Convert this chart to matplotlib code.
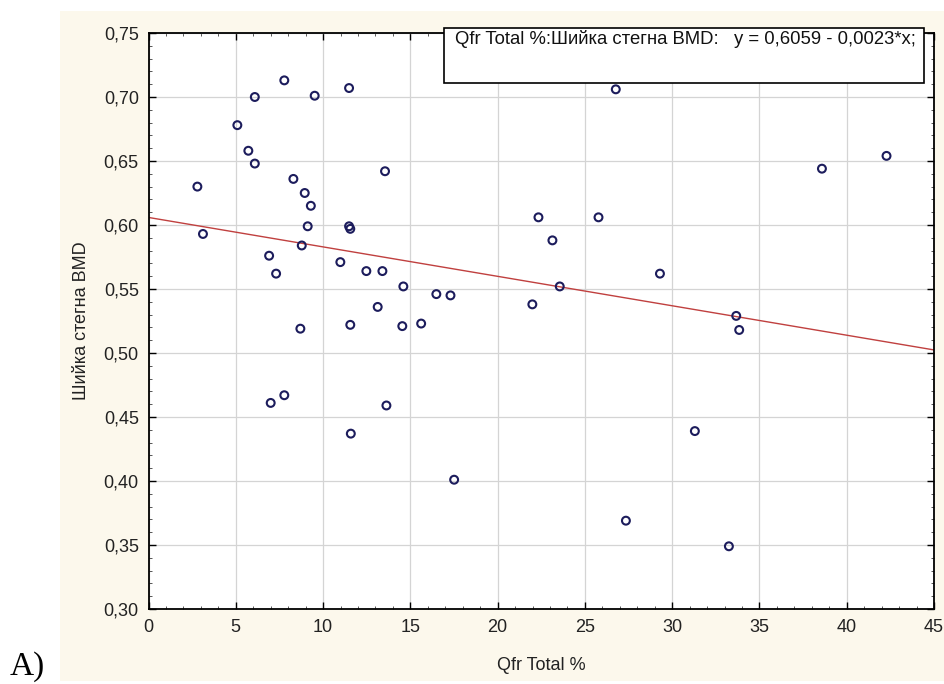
import matplotlib
matplotlib.use('Agg')
import matplotlib.pyplot as plt
from matplotlib.patches import Rectangle
from matplotlib.ticker import MultipleLocator, FuncFormatter
import numpy as np

plt.rcParams['font.family'] = ['Liberation Sans', 'DejaVu Sans']

# Qfr Total % vs femoral neck BMD
qfr = [2.80, 3.12, 5.09, 5.72, 6.09, 6.09, 6.91, 7.00, 7.31, 7.78,
       7.78, 8.30, 8.70, 8.78, 8.95, 9.12, 9.30, 9.52, 10.99, 11.49,
       11.49, 11.56, 11.56, 11.59, 12.48, 13.13, 13.40, 13.55, 13.63, 14.54,
       14.60, 15.62, 16.49, 17.30, 17.51, 21.99, 22.34, 23.14, 23.56, 25.78,
       26.77, 27.35, 29.30, 31.30, 33.25, 33.67, 33.84, 38.58, 42.28]
bmd = [0.630, 0.593, 0.678, 0.658, 0.700, 0.648, 0.576, 0.461, 0.562, 0.713,
       0.467, 0.636, 0.519, 0.584, 0.625, 0.599, 0.615, 0.701, 0.571, 0.707,
       0.599, 0.597, 0.522, 0.437, 0.564, 0.536, 0.564, 0.642, 0.459, 0.521,
       0.552, 0.523, 0.546, 0.545, 0.401, 0.538, 0.606, 0.588, 0.552, 0.606,
       0.706, 0.369, 0.562, 0.439, 0.349, 0.529, 0.518, 0.644, 0.654]

intercept = 0.6059
slope = -0.0023
x_ticks = [0, 5, 10, 15, 20, 25, 30, 35, 40, 45]
y_ticks = [0.30, 0.35, 0.40, 0.45, 0.50, 0.55, 0.60, 0.65, 0.70, 0.75]

W, H = 944, 684
fig = plt.figure(figsize=(W / 100, H / 100), dpi=100)
fig.patch.set_facecolor('white')

# cream panel behind the plot
fig.patches.append(Rectangle((60 / W, 1 - 681 / H), (W - 60) / W, (681 - 11) / H,
                             transform=fig.transFigure, facecolor='#fcf8ec',
                             edgecolor='none', zorder=-10))

ax = fig.add_axes([148.5 / W, 1 - 609 / H, (934 - 148.5) / W, (609 - 33) / H])
ax.set_facecolor('white')

ax.set_xlim(0, 45)
ax.set_ylim(0.30, 0.75)
ax.set_xticks(x_ticks)
ax.set_yticks(y_ticks)
ax.xaxis.set_minor_locator(MultipleLocator(1))
ax.yaxis.set_minor_locator(MultipleLocator(0.01))
ax.xaxis.set_major_formatter(FuncFormatter(lambda v, p: f'{v:g}'))
ax.yaxis.set_major_formatter(FuncFormatter(lambda v, p: f'{v:.2f}'.replace('.', ',')))

ax.grid(True, which='major', color='#d4d4d4', linewidth=0.9, zorder=0)
ax.tick_params(which='both', direction='in', top=True, right=True,
               labelsize=13, labelcolor='#222222', pad=7)
ax.tick_params(which='major', length=5, width=1)
ax.tick_params(which='minor', length=2.5, width=0.7, color='#555555')
for s in ax.spines.values():
    s.set_linewidth(1.3)
    s.set_color('black')

xs = np.array([0, 45])
ax.plot(xs, intercept + slope * xs, color='#c0403f', linewidth=1.0, zorder=2)
ax.scatter(qfr, bmd, s=32, facecolors='none', edgecolors='#1c1c5c',
           linewidths=1.5, zorder=3)

ax.set_xlabel('Qfr Total %', fontsize=13, color='#222222', labelpad=15)
ax.set_ylabel('Шийка стегна BMD', fontsize=13, color='#222222', labelpad=10)

# regression equation box
fig.patches.append(Rectangle((444 / W, 1 - 83 / H), (924 - 444) / W, (83 - 28) / H,
                             transform=fig.transFigure, facecolor='white',
                             edgecolor='black', linewidth=1.2, zorder=5))
fig.text(455 / W, 1 - 39 / H,
         'Qfr Total %:Шийка стегна BMD:   y = 0,6059 - 0,0023*x;',
         fontsize=13.3, color='#111111', va='center', ha='left', zorder=6)

fig.text(10 / W, 1 - 667 / H, 'A)', family=['Liberation Serif', 'DejaVu Serif'],
         fontsize=24, color='black', va='center', ha='left')

fig.savefig('out.png', dpi=100)
